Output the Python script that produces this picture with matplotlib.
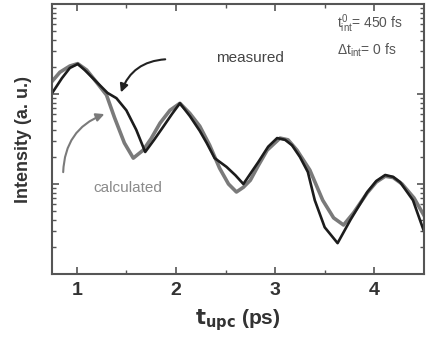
import numpy as np
import matplotlib
matplotlib.use('Agg')
import matplotlib.pyplot as plt
from matplotlib.ticker import NullFormatter, LogLocator, FixedLocator

plt.rcParams['font.family'] = ['Liberation Sans', 'DejaVu Sans']
plt.rcParams['mathtext.fontset'] = 'custom'
plt.rcParams['mathtext.rm'] = 'Liberation Sans'
plt.rcParams['mathtext.it'] = 'Liberation Sans'

##measured curve (black)
t_meas = [0.75, 0.85, 0.93, 1.01, 1.08, 1.16, 1.31, 1.4, 1.5, 1.6, 1.69, 1.78, 1.87, 1.96, 2.04,
          2.14, 2.24, 2.31, 2.39, 2.51, 2.6, 2.68, 2.75, 2.83, 2.93, 3.02, 3.1, 3.17, 3.25,
          3.33, 3.4, 3.5, 3.63, 3.76, 3.93, 4.02, 4.11, 4.19, 4.26, 4.39, 4.5]
i_meas = [10.2, 15, 19.5, 21.6, 18.5, 15.1, 10.3, 9.0, 6.6, 4.0, 2.27, 3.1, 4.3, 6.0, 7.9,
          5.7, 3.9, 2.86, 1.94, 1.55, 1.25, 1.0, 1.3, 1.75, 2.6, 3.24, 3.1, 2.7, 2.0,
          1.36, 0.66, 0.33, 0.22, 0.40, 0.815, 1.08, 1.26, 1.2, 1.05, 0.66, 0.30]

##calculated curve (gray)
t_calc = [0.75, 0.83, 0.93, 1.01, 1.1, 1.2, 1.3, 1.38, 1.48, 1.57, 1.67, 1.75, 1.84, 1.94, 2.04,
          2.14, 2.24, 2.34, 2.44, 2.53, 2.61, 2.68, 2.75, 2.83, 2.92, 3.05, 3.13, 3.22, 3.35,
          3.48, 3.59, 3.69, 3.79, 3.93, 4.02, 4.11, 4.19, 4.28, 4.4, 4.5]
i_calc = [13.8, 17.5, 20.5, 21.8, 18.5, 13.5, 9.75, 5.5, 2.86, 1.94, 2.38, 3.2, 4.76, 6.6, 7.9,
          6.1, 4.4, 2.7, 1.5, 1.0, 0.815, 0.92, 1.1, 1.6, 2.38, 3.24, 3.1, 2.38, 1.43,
          0.66, 0.42, 0.35, 0.476, 0.8, 1.05, 1.22, 1.18, 1.0, 0.7, 0.45]

x_ticks = [1, 2, 3, 4]

fig = plt.figure(figsize=(4.26, 3.45), dpi=100)
ax = fig.add_axes([0.122, 0.206, 0.873, 0.782])

ax.plot(t_calc, i_calc, color='#7a7a7a', lw=2.6)
ax.plot(t_meas, i_meas, color='#1c1c1c', lw=1.9)

ax.set_yscale('log')
ax.set_xlim(0.75, 4.5)
ax.set_ylim(0.1, 100)

ax.xaxis.set_major_locator(FixedLocator(x_ticks))
ax.xaxis.set_minor_locator(FixedLocator([1.5, 2.5, 3.5]))
ax.yaxis.set_major_locator(LogLocator(base=10))
ax.yaxis.set_minor_locator(LogLocator(base=10, subs=np.arange(2, 10)))
ax.yaxis.set_major_formatter(NullFormatter())
ax.yaxis.set_minor_formatter(NullFormatter())

ax.tick_params(which='both', direction='in', top=True, right=True, color='#555555')
ax.tick_params(which='major', length=5, width=1.2)
ax.tick_params(which='minor', length=3, width=1.0)
ax.tick_params(axis='x', labelsize=14, pad=6)
for lab in ax.get_xticklabels():
    lab.set_fontweight('bold')
    lab.set_color('#333333')
for sp in ax.spines.values():
    sp.set_color('#555555')
    sp.set_linewidth(1.5)

ax.set_xlabel(r'$\mathbf{t_{upc}}$ (ps)', fontsize=15, fontweight='bold', color='#333333', labelpad=6)
ax.set_ylabel('Intensity (a. u.)', fontsize=13, fontweight='bold', color='#333333', labelpad=11)

ax.text(0.532, 0.80, 'measured', transform=ax.transAxes, ha='center', va='center',
        fontsize=11, color='#444444')
ax.text(0.204, 0.318, 'calculated', transform=ax.transAxes, ha='center', va='center',
        fontsize=11, color='#8a8a8a')
ax.text(0.766, 0.926, r'$t^{0}_{int}$= 450 fs', transform=ax.transAxes, ha='left', va='center',
        fontsize=10, color='#555555')
ax.text(0.766, 0.83, r'$\Delta t_{int}$= 0 fs', transform=ax.transAxes, ha='left', va='center',
        fontsize=10, color='#555555')

ax.annotate('', xy=(0.183, 0.663), xytext=(0.312, 0.796), xycoords='axes fraction',
            arrowprops=dict(arrowstyle='-|>', color='#222222', lw=1.5,
                            connectionstyle='arc3,rad=0.35', mutation_scale=12))
ax.annotate('', xy=(0.148, 0.596), xytext=(0.030, 0.367), xycoords='axes fraction',
            arrowprops=dict(arrowstyle='-|>', color='#7a7a7a', lw=1.5,
                            connectionstyle='arc3,rad=-0.35', mutation_scale=12))

plt.savefig('out.png', dpi=100)
